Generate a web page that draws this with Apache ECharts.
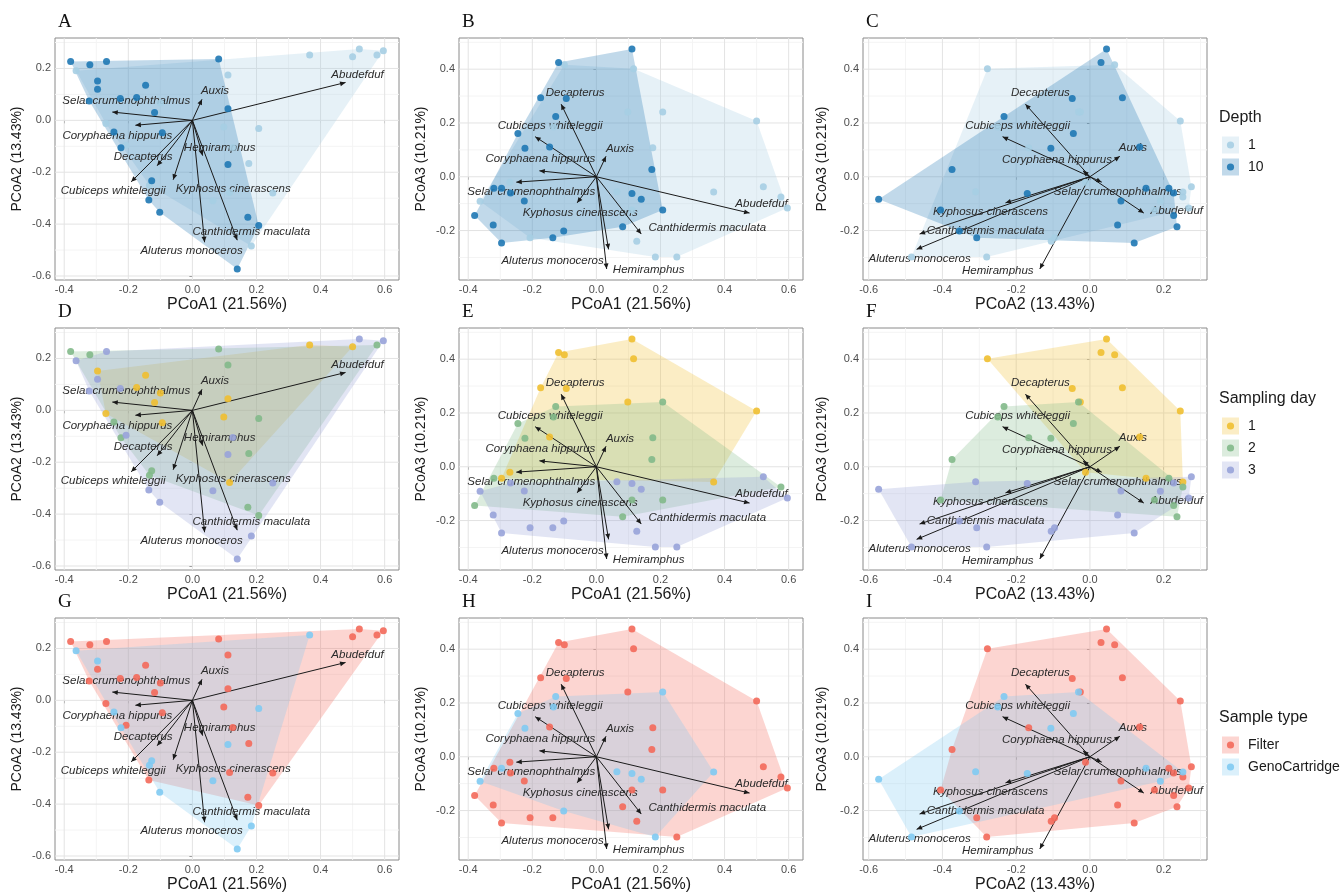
<!DOCTYPE html>
<html>
<head>
<meta charset="utf-8">
<title>PCoA biplots</title>
<script src="https://cdn.jsdelivr.net/npm/echarts@6/dist/echarts.min.js"></script>
<style>
  html, body { margin: 0; padding: 0; background: #fff; }
  #chart { width: 1341px; height: 894px; }
</style>
</head>
<body>
<div id="chart"></div>
<script>
// sample scores on PCoA axes 1-3
var pc1 = [-0.380, -0.363, -0.320, -0.296, -0.322, -0.296, -0.268, -0.245, -0.225, -0.223,
           -0.174, -0.146, -0.136, -0.127, -0.118, -0.100, -0.102, -0.094, 0.064, 0.082,
           0.098, 0.111, 0.111, 0.111, 0.126, 0.207, 0.140, 0.173, 0.176, 0.184,
           0.207, 0.251, 0.366, 0.500, 0.521, 0.576, 0.596, 0.116, -0.207, -0.270, -0.134];
var pc2 = [0.227, 0.191, 0.214, 0.152, 0.075, 0.120, 0.227, -0.045, 0.084, -0.106,
           0.088, 0.135, -0.307, -0.233, 0.030, 0.067, -0.354, -0.048, -0.310, 0.236,
           -0.026, 0.045, -0.170, 0.175, -0.105, -0.405, -0.573, -0.374, -0.166, -0.484,
           -0.031, -0.280, 0.252, 0.245, 0.275, 0.252, 0.268, -0.278, -0.096, -0.012, -0.250];
var pc3 = [-0.144, -0.091, -0.043, -0.043, -0.179, -0.246, -0.060, 0.161, -0.090, 0.106,
           0.294, 0.111, -0.227, 0.224, 0.425, 0.416, -0.202, 0.291, -0.056, -0.186,
           0.241, 0.475, -0.062, -0.124, -0.240, -0.124, -0.084, 0.027, 0.108, -0.298,
           0.241, -0.298, -0.057, 0.207, -0.037, -0.075, -0.116, 0.402, -0.227, -0.020, 0.185];
var depth = [10, 1, 10, 10, 10, 10, 10, 10, 10, 10,
             10, 10, 10, 10, 10, 1, 10, 10, 1, 10,
             1, 10, 10, 1, 1, 10, 10, 10, 1, 1,
             1, 1, 1, 1, 1, 1, 1, 1, 1, 1, 1];
var day = [2, 3, 2, 1, 3, 3, 3, 2, 3, 2,
           1, 1, 3, 2, 1, 1, 3, 1, 3, 2,
           1, 1, 3, 2, 3, 2, 3, 2, 2, 3,
           2, 3, 1, 1, 3, 2, 3, 1, 3, 1, 2];
var sampleType = ['Filter', 'GenoCartridge', 'Filter', 'GenoCartridge', 'Filter', 'Filter', 'Filter', 'GenoCartridge', 'Filter', 'GenoCartridge',
                  'Filter', 'Filter', 'Filter', 'GenoCartridge', 'Filter', 'Filter', 'GenoCartridge', 'Filter', 'GenoCartridge', 'Filter',
                  'Filter', 'Filter', 'GenoCartridge', 'Filter', 'Filter', 'Filter', 'GenoCartridge', 'Filter', 'Filter', 'GenoCartridge',
                  'GenoCartridge', 'Filter', 'GenoCartridge', 'Filter', 'Filter', 'Filter', 'Filter', 'Filter', 'Filter', 'Filter', 'GenoCartridge'];

// species vectors
var species = ['Abudefduf', 'Auxis', 'Selar crumenophthalmus', 'Coryphaena hippurus', 'Hemiramphus',
               'Decapterus', 'Cubiceps whiteleggii', 'Kyphosus cinerascens', 'Aluterus monoceros', 'Canthidermis maculata'];
var vecPc1 = [0.478, 0.030, -0.250, -0.178, 0.032, -0.110, -0.191, -0.060, 0.038, 0.140];
var vecPc2 = [0.146, 0.081, 0.032, -0.019, -0.136, -0.175, -0.237, -0.229, -0.470, -0.462];
var vecPc3 = [-0.135, 0.076, -0.020, 0.022, -0.343, 0.270, 0.149, -0.097, -0.270, -0.213];

var axisNames = { pc1: 'PCoA1 (21.56%)', pc2: 'PCoA2 (13.43%)', pc3: 'PCoA3 (10.21%)' };
var depthLevels = [1, 10];
var dayLevels = [1, 2, 3];
var typeLevels = ['Filter', 'GenoCartridge'];
var panelLetters = ['A', 'B', 'C', 'D', 'E', 'F', 'G', 'H', 'I'];

/* layout */
var gridLeft = [55, 459, 863];
var gridTop = [38, 328, 618];
var gridW = 344, gridH = 242;
var yNameGap = [31, 31, 34];
// label offset (px) from arrow tip, per column, in species order
var labelNudge = [
  [[12, -8], [13, -9], [14, -11], [-18, 11], [17, -8], [-14, -9], [-18, 9], [60, 9], [-13, 9], [14, -8]],
  [[12, -9], [14, -8], [15, 10], [1, -12], [42, 1], [14, -11], [15, -11], [3, 10], [-56, 11], [66, -6]],
  [[33, -2], [13, -9], [16, 10], [-26, -11], [-42, 2], [15, -11], [15, -11], [-15, 9], [3, 9], [66, -3]]
];

var scores = { pc1: pc1, pc2: pc2, pc3: pc3 };
var vectors = { pc1: vecPc1, pc2: vecPc2, pc3: vecPc3 };
var columns = [{ x: 'pc1', y: 'pc2' }, { x: 'pc1', y: 'pc3' }, { x: 'pc2', y: 'pc3' }];
var groupings = [
  { title: 'Depth', values: depth, levels: depthLevels, colors: ['#a6cee3', '#1f78b4'] },
  { title: 'Sampling day', values: day, levels: dayLevels, colors: ['#f0bf30', '#82b98a', '#98a3d9'] },
  { title: 'Sample type', values: sampleType, levels: typeLevels, colors: ['#f3695a', '#7fcaf2'] }
];

function rgba(hex, a) {
  var n = parseInt(hex.slice(1), 16);
  return 'rgba(' + (n >> 16) + ',' + ((n >> 8) & 255) + ',' + (n & 255) + ',' + a + ')';
}

// axis limits like ggplot: data range + 5%
function limits(key) {
  var all = scores[key].concat(vectors[key], [0]);
  var lo = Math.min.apply(null, all), hi = Math.max.apply(null, all);
  var pad = (hi - lo) * 0.05;
  return [lo - pad, hi + pad];
}
function breaks(lim) {
  var major = [], minor = [];
  for (var k = Math.ceil(lim[0] * 10 - 1e-9); k <= Math.floor(lim[1] * 10 + 1e-9); k++) {
    if (k % 2 === 0) major.push(k / 10); else minor.push(k / 10);
  }
  return { major: major, minor: minor };
}

// convex hull (monotone chain)
function hull(pts) {
  pts = pts.slice().sort(function (a, b) { return a[0] - b[0] || a[1] - b[1]; });
  function cross(o, a, b) { return (a[0] - o[0]) * (b[1] - o[1]) - (a[1] - o[1]) * (b[0] - o[0]); }
  var lower = [], upper = [];
  pts.forEach(function (p) {
    while (lower.length >= 2 && cross(lower[lower.length - 2], lower[lower.length - 1], p) <= 0) lower.pop();
    lower.push(p);
  });
  for (var i = pts.length - 1; i >= 0; i--) {
    var p = pts[i];
    while (upper.length >= 2 && cross(upper[upper.length - 2], upper[upper.length - 1], p) <= 0) upper.pop();
    upper.push(p);
  }
  upper.pop(); lower.pop();
  return lower.concat(upper);
}

function gridRender(xl, yl, xb, yb) {
  return function (params, api) {
    var out = [];
    function add(vals, isX, color) {
      vals.forEach(function (v) {
        var a = isX ? api.coord([v, yl[0]]) : api.coord([xl[0], v]);
        var b = isX ? api.coord([v, yl[1]]) : api.coord([xl[1], v]);
        out.push({ type: 'line', shape: { x1: a[0], y1: a[1], x2: b[0], y2: b[1] }, style: { stroke: color, lineWidth: 1 } });
      });
    }
    add(xb.minor, true, '#f4f4f4'); add(yb.minor, false, '#f4f4f4');
    add(xb.major, true, '#e3e3e3'); add(yb.major, false, '#e3e3e3');
    return { type: 'group', children: out };
  };
}

function hullRender(pts, color) {
  return function (params, api) {
    return { type: 'polygon', shape: { points: pts.map(function (p) { return api.coord(p); }) },
             style: { fill: rgba(color, 0.28) } };
  };
}

function arrowRender(nudge) {
  return function (params, api) {
    var i = params.dataIndex;
    var o = api.coord([0, 0]);
    var t = api.coord([api.value(0), api.value(1)]);
    var ang = Math.atan2(t[1] - o[1], t[0] - o[0]);
    var h = 6, w = 0.42;
    var p1 = [t[0] - h * Math.cos(ang - w), t[1] - h * Math.sin(ang - w)];
    var p2 = [t[0] - h * Math.cos(ang + w), t[1] - h * Math.sin(ang + w)];
    return { type: 'group', children: [
      { type: 'line', shape: { x1: o[0], y1: o[1], x2: t[0], y2: t[1] }, style: { stroke: '#1a1a1a', lineWidth: 1 } },
      { type: 'polygon', shape: { points: [t, p1, p2] }, style: { fill: '#1a1a1a' } },
      { type: 'text', x: t[0] + nudge[i][0], y: t[1] + nudge[i][1],
        style: { text: species[i], fill: '#2a2a2a', font: 'italic 11.5px "Liberation Sans", Arial, sans-serif',
                 align: 'center', verticalAlign: 'middle' } }
    ] };
  };
}

var fmt = function (v) { return v.toFixed(1); };

var grids = [], xAxes = [], yAxes = [], series = [], graphics = [];

for (var r = 0; r < 3; r++) {
  for (var c = 0; c < 3; c++) {
    var p = r * 3 + c;
    var col = columns[c], g = groupings[r];
    var xl = limits(col.x), yl = limits(col.y);
    var xb = breaks(xl), yb = breaks(yl);
    var xs = scores[col.x], ys = scores[col.y];

    grids.push({ left: gridLeft[c], top: gridTop[r], width: gridW, height: gridH,
                 show: true, borderColor: '#8a8a8a', borderWidth: 1, backgroundColor: '#fff' });
    xAxes.push({
      type: 'value', gridIndex: p, min: xl[0], max: xl[1],
      name: axisNames[col.x], nameLocation: 'middle', nameGap: 17,
      nameTextStyle: { color: '#1a1a1a', fontSize: 16, fontFamily: 'Liberation Sans' },
      axisLine: { show: false },
      axisTick: { show: true, length: 3, lineStyle: { color: '#555' }, customValues: xb.major },
      axisLabel: { customValues: xb.major, formatter: fmt, color: '#4d4d4d', fontSize: 11, margin: 4, fontFamily: 'Liberation Sans' },
      splitLine: { show: false }
    });
    yAxes.push({
      type: 'value', gridIndex: p, min: yl[0], max: yl[1],
      name: axisNames[col.y], nameLocation: 'middle', nameGap: yNameGap[c],
      nameTextStyle: { color: '#1a1a1a', fontSize: 14, fontFamily: 'Liberation Sans' },
      axisLine: { show: false },
      axisTick: { show: true, length: 3, lineStyle: { color: '#555' }, customValues: yb.major },
      axisLabel: { customValues: yb.major, formatter: fmt, color: '#4d4d4d', fontSize: 11, margin: 4, fontFamily: 'Liberation Sans' },
      splitLine: { show: false }
    });

    series.push({ type: 'custom', xAxisIndex: p, yAxisIndex: p, silent: true, data: [[0, 0]],
                  renderItem: gridRender(xl, yl, xb, yb) });

    g.levels.forEach(function (lev, li) {
      var pts = [];
      for (var i = 0; i < xs.length; i++) if (g.values[i] === lev) pts.push([xs[i], ys[i]]);
      series.push({ type: 'custom', xAxisIndex: p, yAxisIndex: p, silent: true, data: [[0, 0]],
                    renderItem: hullRender(hull(pts), g.colors[li]) });
    });
    g.levels.forEach(function (lev, li) {
      var pts = [];
      for (var i = 0; i < xs.length; i++) if (g.values[i] === lev) pts.push([xs[i], ys[i]]);
      series.push({ type: 'scatter', xAxisIndex: p, yAxisIndex: p, silent: true, symbolSize: 7,
                    itemStyle: { color: g.colors[li], opacity: 0.9 }, data: pts });
    });

    var vdata = species.map(function (s, i) { return [vectors[col.x][i], vectors[col.y][i]]; });
    series.push({ type: 'custom', xAxisIndex: p, yAxisIndex: p, silent: true, data: vdata,
                  renderItem: arrowRender(labelNudge[c]) });

    graphics.push({ type: 'text', left: gridLeft[c] + 3, top: gridTop[r] - 25,
                    style: { text: panelLetters[p], fill: '#111', font: '19px "Liberation Serif", "Times New Roman", serif' } });
  }
}

// legends
var legendTitleY = [118, 399, 718];
groupings.forEach(function (g, r) {
  var ty = legendTitleY[r];
  graphics.push({ type: 'text', x: 1219, y: ty,
                  style: { text: g.title, fill: '#1a1a1a', font: '16px "Liberation Sans", Arial, sans-serif', verticalAlign: 'middle' } });
  g.levels.forEach(function (lev, k) {
    var cy = ty + 27 + k * 22;
    graphics.push({ type: 'rect', shape: { x: 1222, y: cy - 8.5, width: 17, height: 17 }, style: { fill: rgba(g.colors[k], 0.28) } });
    graphics.push({ type: 'circle', shape: { cx: 1230.5, cy: cy, r: 3.6 }, style: { fill: g.colors[k], opacity: 0.9 } });
    graphics.push({ type: 'text', x: 1248, y: cy,
                    style: { text: String(lev), fill: '#1a1a1a', font: '14px "Liberation Sans", Arial, sans-serif', verticalAlign: 'middle' } });
  });
});

var chart = echarts.init(document.getElementById('chart'));
chart.setOption({
  animation: false,
  backgroundColor: '#fff',
  grid: grids,
  xAxis: xAxes,
  yAxis: yAxes,
  series: series,
  graphic: graphics
});
</script>
</body>
</html>
